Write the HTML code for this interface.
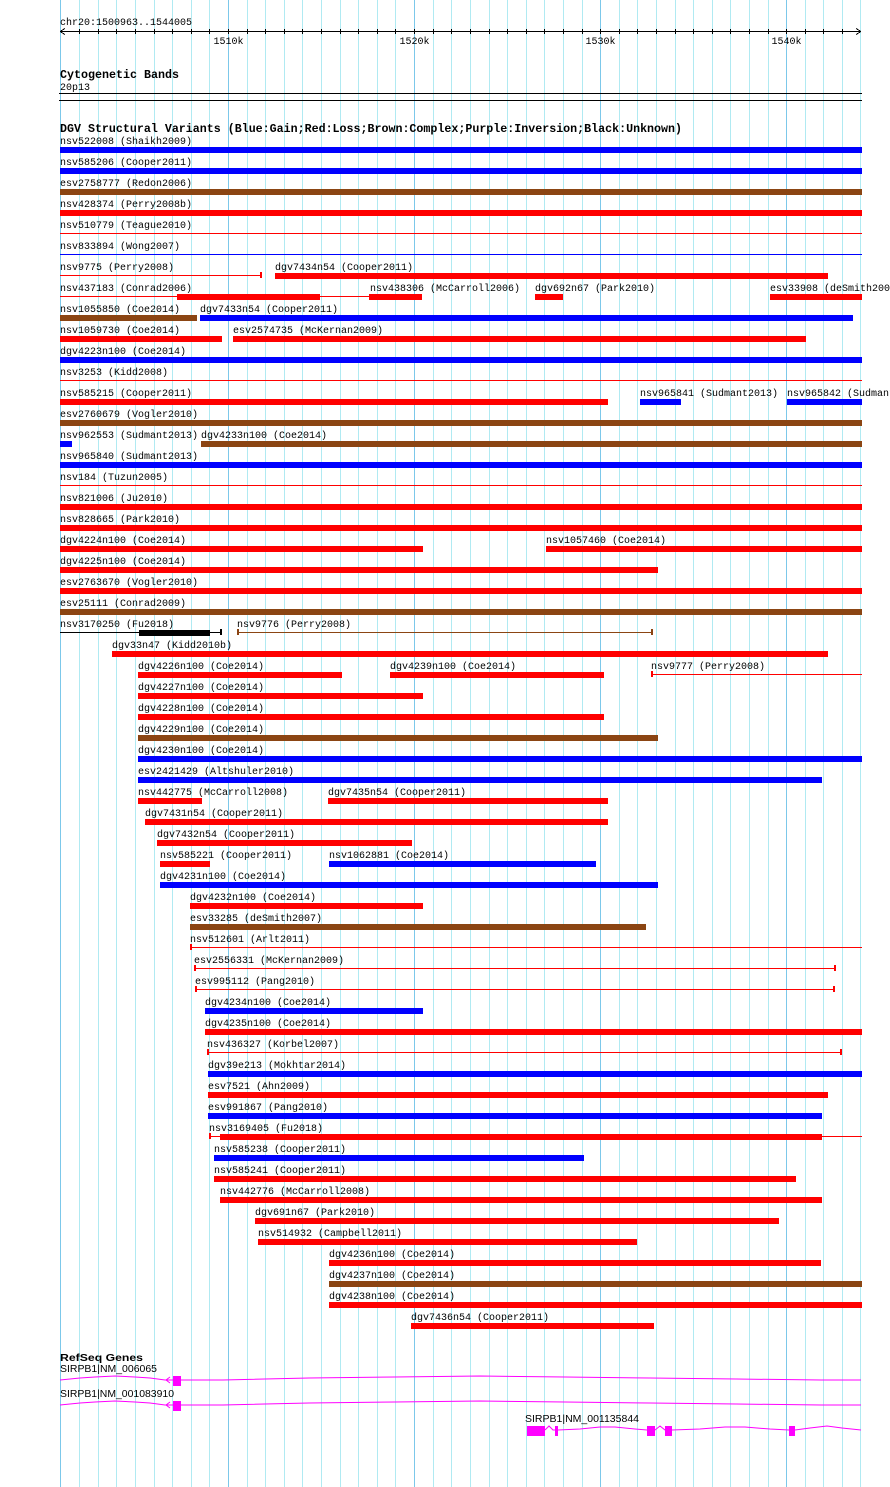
<!DOCTYPE html>
<html><head><meta charset="utf-8"><style>
html,body{margin:0;padding:0;background:#fff;}
svg{display:block;}
.l{font-family:"Liberation Mono","DejaVu Sans Mono",monospace;font-size:10px;fill:#000;}
.h{font-family:"Liberation Mono","DejaVu Sans Mono",monospace;font-size:11.7px;font-weight:bold;fill:#000;}
.g{font-family:"Liberation Sans","DejaVu Sans",sans-serif;font-size:10px;fill:#000;}
</style></head><body>
<svg width="890" height="1487" viewBox="0 0 890 1487" xmlns="http://www.w3.org/2000/svg" shape-rendering="crispEdges">
<rect width="890" height="1487" fill="#fff"/>
<path stroke="#b0eaf2" stroke-width="1" fill="none" d="M79.5 0V1487M98.5 0V1487M116.5 0V1487M135.5 0V1487M154.5 0V1487M172.5 0V1487M191.5 0V1487M209.5 0V1487M247.5 0V1487M265.5 0V1487M284.5 0V1487M302.5 0V1487M321.5 0V1487M340.5 0V1487M358.5 0V1487M377.5 0V1487M395.5 0V1487M433.5 0V1487M451.5 0V1487M470.5 0V1487M489.5 0V1487M507.5 0V1487M526.5 0V1487M544.5 0V1487M563.5 0V1487M582.5 0V1487M619.5 0V1487M637.5 0V1487M656.5 0V1487M675.5 0V1487M693.5 0V1487M712.5 0V1487M730.5 0V1487M749.5 0V1487M768.5 0V1487M805.5 0V1487M823.5 0V1487M842.5 0V1487M860.5 0V1487"/>
<path stroke="#7cc8ea" stroke-width="1" fill="none" d="M60.5 0V1487M228.5 0V1487M414.5 0V1487M600.5 0V1487M786.5 0V1487"/>

<!-- ruler -->
<text class="l" x="60" y="25">chr20:1500963..1544005</text>
<path stroke="#000" fill="none" d="M60 31.5H861M60 31.5l5 -3M60 31.5l5 3M861 31.5l-5 -3M861 31.5l-5 3"/>
<path stroke="#000" fill="none" d="M79.5 29V34M98.5 29V34M116.5 29V34M135.5 29V34M154.5 29V34M172.5 29V34M191.5 29V34M209.5 29V34M228.5 29V34M247.5 29V34M265.5 29V34M284.5 29V34M302.5 29V34M321.5 29V34M340.5 29V34M358.5 29V34M377.5 29V34M395.5 29V34M414.5 29V34M433.5 29V34M451.5 29V34M470.5 29V34M489.5 29V34M507.5 29V34M526.5 29V34M544.5 29V34M563.5 29V34M582.5 29V34M600.5 29V34M619.5 29V34M637.5 29V34M656.5 29V34M675.5 29V34M693.5 29V34M712.5 29V34M730.5 29V34M749.5 29V34M768.5 29V34M786.5 29V34M805.5 29V34M823.5 29V34M842.5 29V34"/>
<text class="l" x="228.5" y="44" text-anchor="middle">1510k</text>
<text class="l" x="414.5" y="44" text-anchor="middle">1520k</text>
<text class="l" x="600.5" y="44" text-anchor="middle">1530k</text>
<text class="l" x="786.5" y="44" text-anchor="middle">1540k</text>

<!-- cytobands -->
<text class="h" x="60" y="78" textLength="119" lengthAdjust="spacingAndGlyphs">Cytogenetic Bands</text>
<text class="l" x="60" y="90">20p13</text>
<path stroke="#000" fill="none" d="M59 93.5H862M59 100.5H862"/>

<text class="h" x="60" y="132" textLength="622" lengthAdjust="spacingAndGlyphs">DGV Structural Variants (Blue:Gain;Red:Loss;Brown:Complex;Purple:Inversion;Black:Unknown)</text>

<g class="l">
<text x="60" y="144">nsv522008 (Shaikh2009)</text>
<text x="60" y="165">nsv585206 (Cooper2011)</text>
<text x="60" y="186">esv2758777 (Redon2006)</text>
<text x="60" y="207">nsv428374 (Perry2008b)</text>
<text x="60" y="228">nsv510779 (Teague2010)</text>
<text x="60" y="249">nsv833894 (Wong2007)</text>
<text x="60" y="270">nsv9775 (Perry2008)</text>
<text x="275" y="270">dgv7434n54 (Cooper2011)</text>
<text x="60" y="291">nsv437183 (Conrad2006)</text>
<text x="370" y="291">nsv438306 (McCarroll2006)</text>
<text x="535" y="291">dgv692n67 (Park2010)</text>
<text x="770" y="291">esv33908 (deSmith2007)</text>
<text x="60" y="312">nsv1055850 (Coe2014)</text>
<text x="200" y="312">dgv7433n54 (Cooper2011)</text>
<text x="60" y="333">nsv1059730 (Coe2014)</text>
<text x="233" y="333">esv2574735 (McKernan2009)</text>
<text x="60" y="354">dgv4223n100 (Coe2014)</text>
<text x="60" y="375">nsv3253 (Kidd2008)</text>
<text x="60" y="396">nsv585215 (Cooper2011)</text>
<text x="640" y="396">nsv965841 (Sudmant2013)</text>
<text x="787" y="396">nsv965842 (Sudmant2013)</text>
<text x="60" y="417">esv2760679 (Vogler2010)</text>
<text x="60" y="438">nsv962553 (Sudmant2013)</text>
<text x="201" y="438">dgv4233n100 (Coe2014)</text>
<text x="60" y="459">nsv965840 (Sudmant2013)</text>
<text x="60" y="480">nsv184 (Tuzun2005)</text>
<text x="60" y="501">nsv821006 (Ju2010)</text>
<text x="60" y="522">nsv828665 (Park2010)</text>
<text x="60" y="543">dgv4224n100 (Coe2014)</text>
<text x="546" y="543">nsv1057460 (Coe2014)</text>
<text x="60" y="564">dgv4225n100 (Coe2014)</text>
<text x="60" y="585">esv2763670 (Vogler2010)</text>
<text x="60" y="606">esv25111 (Conrad2009)</text>
<text x="60" y="627">nsv3170250 (Fu2018)</text>
<text x="237" y="627">nsv9776 (Perry2008)</text>
<text x="112" y="648">dgv33n47 (Kidd2010b)</text>
<text x="138" y="669">dgv4226n100 (Coe2014)</text>
<text x="390" y="669">dgv4239n100 (Coe2014)</text>
<text x="651" y="669">nsv9777 (Perry2008)</text>
<text x="138" y="690">dgv4227n100 (Coe2014)</text>
<text x="138" y="711">dgv4228n100 (Coe2014)</text>
<text x="138" y="732">dgv4229n100 (Coe2014)</text>
<text x="138" y="753">dgv4230n100 (Coe2014)</text>
<text x="138" y="774">esv2421429 (Altshuler2010)</text>
<text x="138" y="795">nsv442775 (McCarroll2008)</text>
<text x="328" y="795">dgv7435n54 (Cooper2011)</text>
<text x="145" y="816">dgv7431n54 (Cooper2011)</text>
<text x="157" y="837">dgv7432n54 (Cooper2011)</text>
<text x="160" y="858">nsv585221 (Cooper2011)</text>
<text x="329" y="858">nsv1062881 (Coe2014)</text>
<text x="160" y="879">dgv4231n100 (Coe2014)</text>
<text x="190" y="900">dgv4232n100 (Coe2014)</text>
<text x="190" y="921">esv33285 (deSmith2007)</text>
<text x="190" y="942">nsv512601 (Arlt2011)</text>
<text x="194" y="963">esv2556331 (McKernan2009)</text>
<text x="195" y="984">esv995112 (Pang2010)</text>
<text x="205" y="1005">dgv4234n100 (Coe2014)</text>
<text x="205" y="1026">dgv4235n100 (Coe2014)</text>
<text x="207" y="1047">nsv436327 (Korbel2007)</text>
<text x="208" y="1068">dgv39e213 (Mokhtar2014)</text>
<text x="208" y="1089">esv7521 (Ahn2009)</text>
<text x="208" y="1110">esv991867 (Pang2010)</text>
<text x="209" y="1131">nsv3169405 (Fu2018)</text>
<text x="214" y="1152">nsv585238 (Cooper2011)</text>
<text x="214" y="1173">nsv585241 (Cooper2011)</text>
<text x="220" y="1194">nsv442776 (McCarroll2008)</text>
<text x="255" y="1215">dgv691n67 (Park2010)</text>
<text x="258" y="1236">nsv514932 (Campbell2011)</text>
<text x="329" y="1257">dgv4236n100 (Coe2014)</text>
<text x="329" y="1278">dgv4237n100 (Coe2014)</text>
<text x="329" y="1299">dgv4238n100 (Coe2014)</text>
<text x="411" y="1320">dgv7436n54 (Cooper2011)</text>
</g>

<!-- blue bars -->
<g fill="#0000ff">
<rect x="60" y="147" width="802" height="6"/>
<rect x="60" y="168" width="802" height="6"/>
<rect x="200" y="315" width="653" height="6"/>
<rect x="60" y="357" width="802" height="6"/>
<rect x="640" y="399" width="41" height="6"/>
<rect x="787" y="399" width="75" height="6"/>
<rect x="60" y="441" width="12" height="6"/>
<rect x="60" y="462" width="802" height="6"/>
<rect x="138" y="756" width="724" height="6"/>
<rect x="138" y="777" width="684" height="6"/>
<rect x="329" y="861" width="267" height="6"/>
<rect x="160" y="882" width="498" height="6"/>
<rect x="205" y="1008" width="218" height="6"/>
<rect x="208" y="1071" width="654" height="6"/>
<rect x="208" y="1113" width="614" height="6"/>
<rect x="214" y="1155" width="370" height="6"/>
<rect x="60" y="254" width="802" height="1"/>
</g>
<!-- brown bars -->
<g fill="#8b4513">
<rect x="60" y="189" width="802" height="6"/>
<rect x="60" y="315" width="137" height="6"/>
<rect x="60" y="420" width="802" height="6"/>
<rect x="201" y="441" width="661" height="6"/>
<rect x="60" y="609" width="802" height="6"/>
<rect x="138" y="735" width="520" height="6"/>
<rect x="190" y="924" width="456" height="6"/>
<rect x="329" y="1281" width="533" height="6"/>
<rect x="238" y="632" width="414" height="1"/>
<rect x="237" y="629" width="2" height="6"/>
<rect x="651" y="629" width="2" height="6"/>
</g>
<!-- red bars -->
<g fill="#ff0000">
<rect x="60" y="210" width="802" height="6"/>
<rect x="60" y="233" width="802" height="1"/>
<rect x="60" y="275" width="201" height="1"/>
<rect x="260" y="272" width="2" height="6"/>
<rect x="275" y="273" width="553" height="6"/>
<rect x="60" y="296" width="310" height="1"/>
<rect x="177" y="294" width="143" height="6"/>
<rect x="369" y="294" width="53" height="6"/>
<rect x="535" y="294" width="28" height="6"/>
<rect x="770" y="294" width="92" height="6"/>
<rect x="60" y="336" width="162" height="6"/>
<rect x="233" y="336" width="573" height="6"/>
<rect x="60" y="380" width="802" height="1"/>
<rect x="60" y="399" width="548" height="6"/>
<rect x="60" y="485" width="802" height="1"/>
<rect x="60" y="504" width="802" height="6"/>
<rect x="60" y="525" width="802" height="6"/>
<rect x="60" y="546" width="363" height="6"/>
<rect x="546" y="546" width="316" height="6"/>
<rect x="60" y="567" width="598" height="6"/>
<rect x="60" y="588" width="802" height="6"/>
<rect x="112" y="651" width="716" height="6"/>
<rect x="138" y="672" width="204" height="6"/>
<rect x="390" y="672" width="214" height="6"/>
<rect x="652" y="674" width="210" height="1"/>
<rect x="651" y="671" width="2" height="6"/>
<rect x="138" y="693" width="285" height="6"/>
<rect x="138" y="714" width="466" height="6"/>
<rect x="138" y="798" width="64" height="6"/>
<rect x="328" y="798" width="280" height="6"/>
<rect x="145" y="819" width="463" height="6"/>
<rect x="157" y="840" width="255" height="6"/>
<rect x="160" y="861" width="50" height="6"/>
<rect x="190" y="903" width="233" height="6"/>
<rect x="190" y="947" width="672" height="1"/>
<rect x="190" y="944" width="2" height="6"/>
<rect x="194" y="968" width="641" height="1"/>
<rect x="194" y="965" width="2" height="6"/>
<rect x="834" y="965" width="2" height="6"/>
<rect x="195" y="989" width="640" height="1"/>
<rect x="195" y="986" width="2" height="6"/>
<rect x="833" y="986" width="2" height="6"/>
<rect x="205" y="1029" width="657" height="6"/>
<rect x="207" y="1052" width="634" height="1"/>
<rect x="207" y="1049" width="2" height="6"/>
<rect x="840" y="1049" width="2" height="6"/>
<rect x="208" y="1092" width="620" height="6"/>
<rect x="209" y="1136" width="653" height="1"/>
<rect x="209" y="1133" width="2" height="6"/>
<rect x="220" y="1134" width="602" height="6"/>
<rect x="214" y="1176" width="582" height="6"/>
<rect x="220" y="1197" width="602" height="6"/>
<rect x="255" y="1218" width="524" height="6"/>
<rect x="258" y="1239" width="379" height="6"/>
<rect x="329" y="1260" width="492" height="6"/>
<rect x="329" y="1302" width="533" height="6"/>
<rect x="411" y="1323" width="243" height="6"/>
</g>
<!-- black -->
<g fill="#000">
<rect x="60" y="632" width="161" height="1"/>
<rect x="139" y="630" width="71" height="6"/>
<rect x="220" y="629" width="2" height="6"/>
</g>

<!-- RefSeq genes -->
<text class="g" x="60" y="1361" font-weight="bold" font-size="11" textLength="83" lengthAdjust="spacingAndGlyphs">RefSeq Genes</text>
<text class="g" x="60" y="1372" textLength="97" lengthAdjust="spacingAndGlyphs">SIRPB1|NM_006065</text>
<text class="g" x="60" y="1397" textLength="114" lengthAdjust="spacingAndGlyphs">SIRPB1|NM_001083910</text>
<text class="g" x="525" y="1422" textLength="114" lengthAdjust="spacingAndGlyphs">SIRPB1|NM_001135844</text>
<g stroke="#ff00ff" fill="none" shape-rendering="auto">
<polyline points="60,1380 80,1378 95,1377 115,1376 135,1377 150,1378 165,1380 223,1380 309,1378 395,1377 480,1376 565,1377 650,1378 736,1379 821,1380 861,1380"/>
<path d="M170 1377l-4 3 4 3"/>
<polyline points="60,1405 80,1403 95,1402 115,1401 135,1402 150,1403 165,1405 223,1405 309,1403 395,1402 480,1401 565,1402 650,1403 736,1404 821,1405 861,1405"/>
<path d="M170 1402l-4 3 4 3"/>
<polyline points="545,1430 549,1426 553,1430 558,1430 580,1429 600,1427 615,1427 635,1429 647,1430 655,1430 660,1426 665,1430 672,1430 700,1429 725,1427 745,1427 770,1429 789,1430 795,1430 810,1428 827,1426 842,1428 861,1430"/>
</g>
<g fill="#ff00ff">
<rect x="173" y="1376" width="8" height="10"/>
<rect x="173" y="1401" width="8" height="10"/>
<rect x="527" y="1426" width="18" height="10"/>
<rect x="555" y="1426" width="3" height="10"/>
<rect x="647" y="1426" width="8" height="10"/>
<rect x="665" y="1426" width="7" height="10"/>
<rect x="789" y="1426" width="6" height="10"/>
</g>
</svg>
</body></html>
